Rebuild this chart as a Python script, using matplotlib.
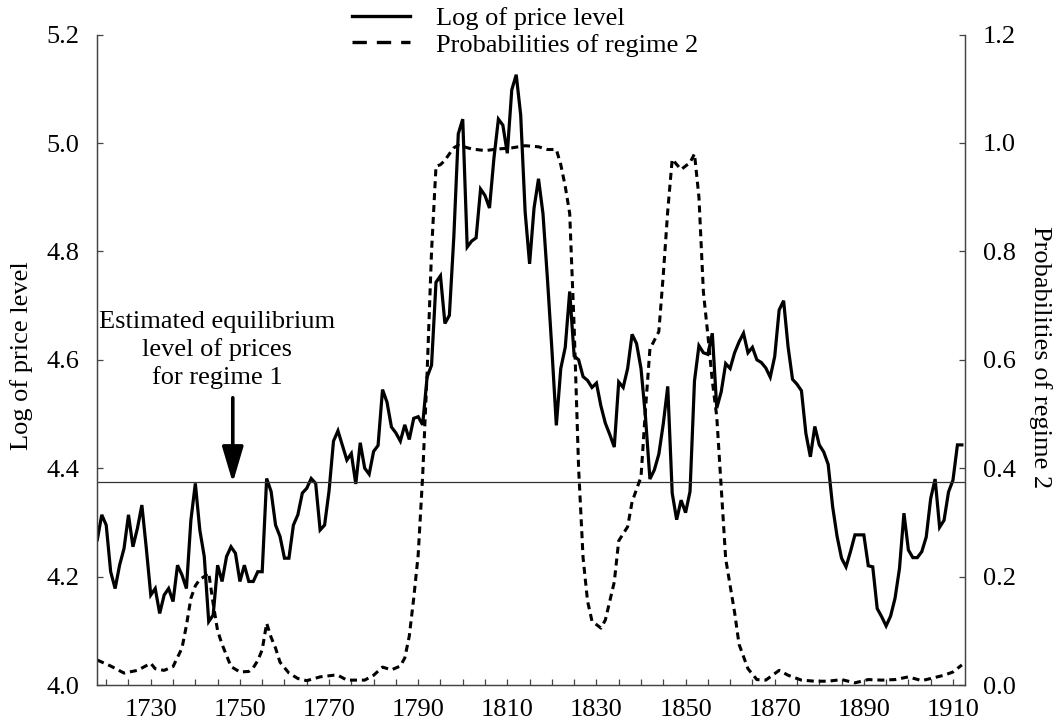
import matplotlib
matplotlib.use("Agg")
import matplotlib.pyplot as plt
from matplotlib.lines import Line2D
from matplotlib.ticker import MultipleLocator, FormatStrFormatter
import numpy as np

# annual log price level, 1718-1912
PRICE_START = 1718
log_price = [
    4.268, 4.314, 4.295, 4.209, 4.178, 4.221, 4.252, 4.314, 4.255, 4.289,
    4.332, 4.252, 4.166, 4.178, 4.132, 4.166, 4.178, 4.154, 4.221, 4.203,
    4.178, 4.304, 4.372, 4.286, 4.237, 4.117, 4.129, 4.221, 4.191, 4.237,
    4.255, 4.243, 4.191, 4.221, 4.191, 4.191, 4.209, 4.209, 4.381, 4.357,
    4.295, 4.274, 4.234, 4.234, 4.295, 4.314, 4.354, 4.363, 4.381, 4.372,
    4.286, 4.295, 4.358, 4.450, 4.469, 4.442, 4.415, 4.427, 4.371, 4.447,
    4.400, 4.389, 4.431, 4.442, 4.545, 4.522, 4.476, 4.465, 4.450, 4.480,
    4.453, 4.492, 4.495, 4.480, 4.568, 4.590, 4.743, 4.755, 4.667, 4.682,
    4.827, 5.017, 5.044, 4.808, 4.819, 4.825, 4.915, 4.903, 4.880, 4.972,
    5.044, 5.033, 4.981, 5.098, 5.126, 5.052, 4.873, 4.777, 4.880, 4.934,
    4.870, 4.750, 4.620, 4.479, 4.584, 4.623, 4.726, 4.607, 4.600, 4.569,
    4.562, 4.549, 4.557, 4.515, 4.483, 4.462, 4.439, 4.559, 4.549, 4.584,
    4.647, 4.630, 4.584, 4.495, 4.380, 4.397, 4.426, 4.482, 4.551, 4.354,
    4.305, 4.341, 4.318, 4.357, 4.561, 4.626, 4.613, 4.610, 4.649, 4.511,
    4.541, 4.593, 4.584, 4.613, 4.633, 4.649, 4.613, 4.623, 4.600, 4.595,
    4.585, 4.568, 4.606, 4.692, 4.709, 4.624, 4.564, 4.555, 4.543, 4.464,
    4.421, 4.477, 4.443, 4.430, 4.407, 4.329, 4.274, 4.234, 4.218, 4.246,
    4.277, 4.277, 4.277, 4.220, 4.218, 4.141, 4.126, 4.109, 4.127, 4.160,
    4.215, 4.317, 4.249, 4.235, 4.235, 4.246, 4.273, 4.344, 4.380, 4.291,
    4.304, 4.356, 4.378, 4.443, 4.443,
]
price_years = np.arange(PRICE_START, PRICE_START + len(log_price))

# smoothed probability of regime 2
prob_years = [
    1718, 1721, 1724, 1727, 1730, 1731, 1733, 1735, 1737, 1738,
    1739, 1740, 1741, 1742, 1743, 1744, 1745, 1746, 1748, 1750,
    1752, 1753, 1754, 1755, 1756, 1757, 1758, 1759, 1761, 1763,
    1765, 1768, 1771, 1772, 1774, 1778, 1780, 1782, 1784, 1786,
    1787, 1788, 1789, 1790, 1791, 1792, 1793, 1794, 1795, 1796,
    1797, 1798, 1799, 1802, 1805, 1808, 1811, 1814, 1817, 1819,
    1821, 1822, 1823, 1824, 1825, 1826, 1827, 1828, 1829, 1831,
    1832, 1834, 1835, 1837, 1838, 1840, 1841, 1842, 1844, 1845,
    1846, 1847, 1849, 1851, 1852, 1853, 1854, 1855, 1856, 1857,
    1858, 1859, 1861, 1862, 1864, 1866, 1868, 1871, 1873, 1876,
    1879, 1882, 1885, 1888, 1891, 1894, 1897, 1900, 1903, 1905,
    1908, 1910, 1912,
]
prob_regime2 = [
    0.046, 0.035, 0.022, 0.027, 0.040, 0.030, 0.027, 0.034, 0.068, 0.110,
    0.160, 0.183, 0.195, 0.200, 0.207, 0.150, 0.100, 0.075, 0.034, 0.024,
    0.025, 0.032, 0.045, 0.065, 0.114, 0.088, 0.068, 0.042, 0.022, 0.012,
    0.008, 0.015, 0.018, 0.018, 0.009, 0.009, 0.018, 0.033, 0.028, 0.035,
    0.050, 0.090, 0.160, 0.240, 0.385, 0.575, 0.800, 0.957, 0.960, 0.968,
    0.980, 0.991, 0.996, 0.989, 0.986, 0.989, 0.991, 0.995, 0.993, 0.988,
    0.988, 0.960, 0.920, 0.870, 0.660, 0.400, 0.235, 0.155, 0.118, 0.105,
    0.120, 0.190, 0.266, 0.292, 0.338, 0.384, 0.508, 0.620, 0.652, 0.757,
    0.875, 0.970, 0.951, 0.964, 0.980, 0.900, 0.725, 0.646, 0.561, 0.495,
    0.364, 0.233, 0.134, 0.075, 0.030, 0.010, 0.009, 0.027, 0.018, 0.009,
    0.007, 0.007, 0.010, 0.004, 0.010, 0.009, 0.010, 0.015, 0.008, 0.012,
    0.018, 0.024, 0.037,
]

EQUILIBRIUM = 4.375
ARROW_YEAR = 1748.4
FS = 19

plt.rcParams["font.family"] = ["Liberation Serif", "DejaVu Serif"]
plt.rcParams["font.size"] = FS

W, H = 1056, 728
fig = plt.figure(figsize=(W / 100, H / 100), dpi=100)
ax = fig.add_axes([97.3 / W, 1 - 685 / H, (965 - 97.3) / W, (685 - 34.6) / H])
ax2 = ax.twinx()

spine_col = "#444444"
ax.plot(price_years, log_price, color="black", lw=2.3, solid_joinstyle="miter")
ax.axhline(EQUILIBRIUM, color="#333333", lw=0.9)
ax2.plot(prob_years, prob_regime2, color="black", lw=2.2, dashes=(2.3, 1.6))

ax.set_xlim(1718, 1912.7)
ax.set_ylim(4.0, 5.2)
ax2.set_ylim(0.0, 1.2)

ax.xaxis.set_major_locator(MultipleLocator(20, offset=10))
ax.xaxis.set_minor_locator(MultipleLocator(5))
ax.yaxis.set_major_locator(MultipleLocator(0.2))
ax.yaxis.set_major_formatter(FormatStrFormatter("%.1f"))
ax2.yaxis.set_major_locator(MultipleLocator(0.2))
ax2.yaxis.set_major_formatter(FormatStrFormatter("%.1f"))

ax.tick_params(axis="x", which="both", direction="in", length=4, width=0.9,
               color=spine_col, pad=10, labelsize=FS)
ax.tick_params(axis="y", direction="in", length=4, width=0.9, color=spine_col,
               pad=13, labelsize=FS)
ax2.tick_params(axis="y", direction="in", length=4, width=0.9, color=spine_col,
                pad=13, labelsize=FS)

for a in (ax, ax2):
    a.spines["top"].set_visible(False)
    for s in ("left", "right", "bottom"):
        a.spines[s].set_color(spine_col)
        a.spines[s].set_linewidth(0.9)

fig.text(22 / W, 1 - 356 / H, "Log of price level", rotation=90,
         ha="center", va="center", fontsize=FS)
fig.text(1040 / W, 1 - 357 / H, "Probabilities of regime 2", rotation=270,
         ha="center", va="center", fontsize=FS)

# annotation for the regime-1 equilibrium level
ax.text(1744.86, 4.618, "Estimated equilibrium\nlevel of prices\nfor regime 1",
        ha="center", va="center", multialignment="center", fontsize=FS,
        linespacing=1.27)
ax.annotate("", xy=(ARROW_YEAR, 4.373), xytext=(ARROW_YEAR, 4.53),
            arrowprops=dict(arrowstyle="-|>,head_length=2.2,head_width=0.65",
                            mutation_scale=10, lw=2.6, color="black",
                            shrinkA=0, shrinkB=0))

handles = [
    Line2D([], [], color="black", lw=2.4),
    Line2D([], [], color="black", lw=2.4, dashes=(4.3, 3.0)),
]
fig.legend(handles, ["Log of price level", "Probabilities of regime 2"],
           loc="upper left", bbox_to_anchor=(352 / W, 1 - 7 / H),
           frameon=False, borderpad=0, borderaxespad=0, handlelength=2.2,
           handletextpad=1.0, labelspacing=0.1, fontsize=FS)

fig.savefig("out.png", dpi=100)
